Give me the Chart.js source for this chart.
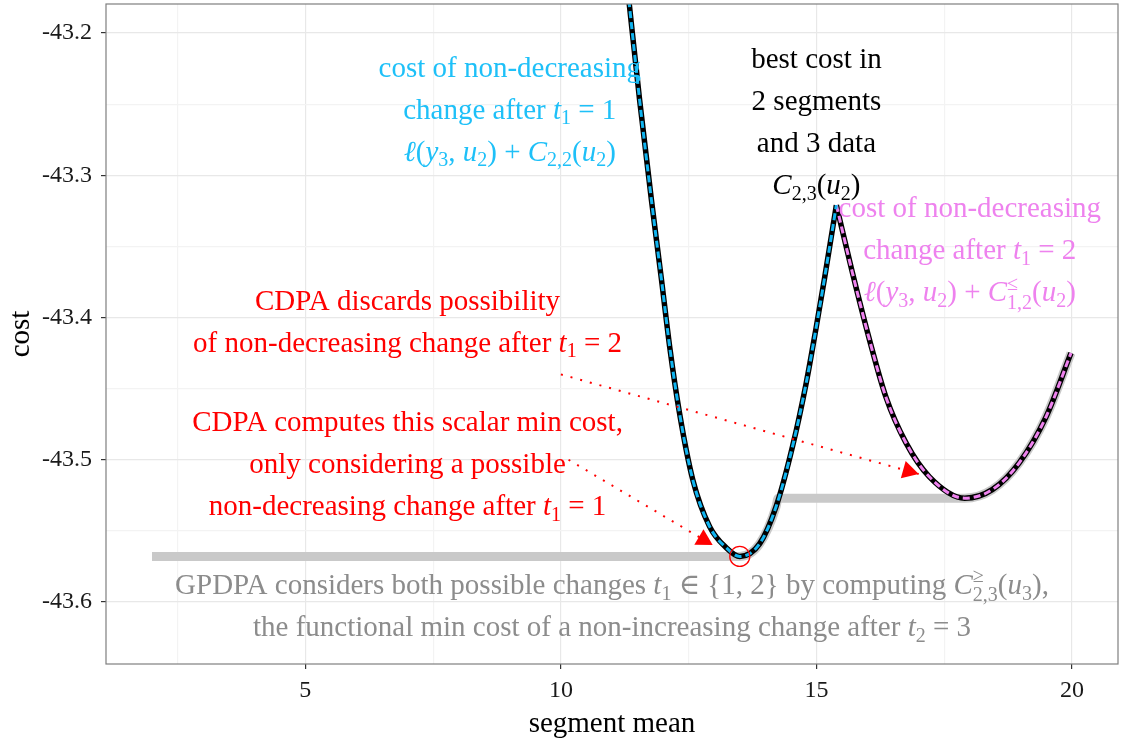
<!DOCTYPE html>
<html>
<head>
<meta charset="utf-8">
<script src="https://cdn.jsdelivr.net/npm/chart.js@4.4.1/dist/chart.umd.min.js"></script>
<style>
  html, body { margin: 0; padding: 0; background: #fff; }
  canvas { display: block; }
</style>
</head>
<body>
<canvas id="costChart" width="1126" height="740"></canvas>
<script>
// cost of a change after t1 = 1 (left branch, up to where it meets the other one)
const segMeanLeft = [11.33, 11.54, 11.77, 11.97, 12.13, 12.32, 12.58, 12.91, 13.24, 13.50, 13.89, 14.21, 14.53, 14.80, 14.99, 15.16, 15.39];
const costLeft = [-43.177, -43.247, -43.317, -43.374, -43.421, -43.467, -43.514, -43.547, -43.562, -43.568, -43.559, -43.533, -43.491, -43.446, -43.408, -43.372, -43.321];

// cost of a change after t1 = 2
const segMeanRight = [15.39, 15.70, 16.04, 16.36, 16.75, 17.21, 17.90, 18.44, 18.97, 19.49, 19.98];
const costRight = [-43.321, -43.368, -43.416, -43.456, -43.488, -43.512, -43.527, -43.521, -43.502, -43.470, -43.425];

// functional min cost of a non-increasing change (grey band)
const segMeanMin = [2.0, 13.50, 13.89, 14.21, 14.25, 17.90, 18.44, 18.97, 19.49, 19.98];
const costMin = [-43.568, -43.568, -43.559, -43.533, -43.527, -43.527, -43.521, -43.502, -43.470, -43.425];

// scalar min cost found by CDPA
const minMean = [13.50];
const minCost = [-43.568];

const xTickVals = [5, 10, 15, 20];
const xMinorVals = [2.5, 7.5, 12.5, 17.5];
const yTickVals = [-43.6, -43.5, -43.4, -43.3, -43.2];
const yMinorVals = [-43.55, -43.45, -43.35, -43.25];

// dotted arrows: start and tip, in data units
const arrowFrom = [[10, -43.44], [10.15, -43.5]];
const arrowTo = [[17, -43.51], [12.97, -43.56]];

// text notes, centred on (x, y)
const notes = [
  { x: 9, y: -43.251, color: '#1ec0f8', lines: [
    'cost of non-decreasing',
    ['change after ', ['t', 'i'], ['1', '_'], ' = 1'],
    [['ℓ', 'i'], '(', ['y', 'i'], ['3', '_'], ', ', ['u', 'i'], ['2', '_'], ') + ', ['C', 'i'], ['2,2', '_'], '(', ['u', 'i'], ['2', '_'], ')']
  ]},
  { x: 15, y: -43.26, color: '#000000', lines: [
    'best cost in',
    '2 segments',
    'and 3 data',
    [['C', 'i'], ['2,3', '_'], '(', ['u', 'i'], ['2', '_'], ')']
  ]},
  { x: 18, y: -43.35, color: '#ee82ee', lines: [
    'cost of non-decreasing',
    ['change after ', ['t', 'i'], ['1', '_'], ' = 2'],
    [['ℓ', 'i'], '(', ['y', 'i'], ['3', '_'], ', ', ['u', 'i'], ['2', '_'], ') + ', ['C', 'i'], ['≤', '^_', '1,2'], '(', ['u', 'i'], ['2', '_'], ')']
  ]},
  { x: 7, y: -43.4, color: '#ff0000', lines: [
    'CDPA discards possibility',
    ['of non-decreasing change after ', ['t', 'i'], ['1', '_'], ' = 2']
  ]},
  { x: 7, y: -43.5, color: '#ff0000', lines: [
    'CDPA computes this scalar min cost,',
    'only considering a possible',
    ['non-decreasing change after ', ['t', 'i'], ['1', '_'], ' = 1']
  ]},
  { x: 11, y: -43.6, color: '#8c8c8c', lines: [
    ['GPDPA considers both possible changes ', ['t', 'i'], ['1', '_'], ' ∈ {1, 2} by computing ', ['C', 'i'], ['≥', '^_', '2,3'], '(', ['u', 'i'], ['3', '_'], '),'],
    ['the functional min cost of a non-increasing change after ', ['t', 'i'], ['2', '_'], ' = 3']
  ]}
];

const SERIF = '"Liberation Serif", "DejaVu Serif", serif';
const NOTE_SIZE = 29;
const LINE_GAP = 42;

function fontOf(kind, size) {
  return (kind === 'i' ? 'italic ' : '') + size + 'px ' + SERIF;
}

function toPoints(xs, ys) {
  return xs.map((v, i) => ({ x: v, y: ys[i] }));
}

function pieces(line) {
  if (typeof line === 'string') line = [line];
  return line.map(p => typeof p === 'string' ? { text: p, kind: 'r' } : { text: p[0], kind: p[1], low: p[2] });
}

// one line of text with italics, subscripts and stacked super/subscripts
function drawMathLine(ctx, line, cx, baseY, size) {
  const parts = pieces(line);
  const small = Math.round(size * 0.7);
  let total = 0;
  parts.forEach(p => {
    if (p.kind === '_') {
      ctx.font = fontOf('r', small);
      p.w = ctx.measureText(p.text).width;
    } else if (p.kind === '^_') {
      ctx.font = fontOf('r', small);
      p.w = Math.max(ctx.measureText(p.text).width, ctx.measureText(p.low).width);
    } else {
      ctx.font = fontOf(p.kind, size);
      p.w = ctx.measureText(p.text).width;
    }
    total += p.w;
  });
  let x = cx - total / 2;
  parts.forEach(p => {
    if (p.kind === '_') {
      ctx.font = fontOf('r', small);
      ctx.fillText(p.text, x, baseY + size * 0.2);
    } else if (p.kind === '^_') {
      ctx.font = fontOf('r', small);
      ctx.fillText(p.text, x, baseY - size * 0.4);
      ctx.fillText(p.low, x, baseY + size * 0.25);
    } else {
      ctx.font = fontOf(p.kind, size);
      ctx.fillText(p.text, x, baseY);
    }
    x += p.w;
  });
}

function drawArrow(ctx, x0, y0, x1, y1) {
  ctx.save();
  ctx.strokeStyle = '#ff0000';
  ctx.fillStyle = '#ff0000';
  ctx.lineWidth = 2;
  ctx.setLineDash([2, 8]);
  ctx.beginPath();
  ctx.moveTo(x0, y0);
  ctx.lineTo(x1, y1);
  ctx.stroke();
  ctx.setLineDash([]);
  const a = Math.atan2(y1 - y0, x1 - x0);
  const len = 16, half = 9;
  const bx = x1 - len * Math.cos(a), by = y1 - len * Math.sin(a);
  ctx.beginPath();
  ctx.moveTo(x1, y1);
  ctx.lineTo(bx + half * Math.sin(a), by - half * Math.cos(a));
  ctx.lineTo(bx - half * Math.sin(a), by + half * Math.cos(a));
  ctx.closePath();
  ctx.fill();
  ctx.restore();
}

const notesPlugin = {
  id: 'notes',
  afterDatasetsDraw(chart) {
    const { ctx, scales: { x, y } } = chart;
    arrowFrom.forEach((from, i) => {
      const to = arrowTo[i];
      drawArrow(ctx, x.getPixelForValue(from[0]), y.getPixelForValue(from[1]),
        x.getPixelForValue(to[0]), y.getPixelForValue(to[1]));
    });
    ctx.save();
    ctx.textAlign = 'left';
    ctx.textBaseline = 'alphabetic';
    notes.forEach(n => {
      const cx = x.getPixelForValue(n.x);
      const cy = y.getPixelForValue(n.y);
      ctx.fillStyle = n.color;
      n.lines.forEach((line, i) => {
        const base = cy + (i - (n.lines.length - 1) / 2) * LINE_GAP + 13;
        drawMathLine(ctx, line, cx, base, NOTE_SIZE);
      });
    });
    ctx.restore();
  },
  afterDraw(chart) {
    const { ctx, chartArea: a } = chart;
    ctx.save();
    ctx.strokeStyle = '#7f7f7f';
    ctx.lineWidth = 1.2;
    ctx.strokeRect(a.left, a.top, a.right - a.left, a.bottom - a.top);
    ctx.restore();
  }
};

const curve = {
  type: 'line',
  pointRadius: 0,
  cubicInterpolationMode: 'monotone',
  clip: 0,
  fill: false
};

new Chart(document.getElementById('costChart'), {
  type: 'line',
  data: {
    datasets: [
      { label: 'min', data: toPoints(minMean, minCost), showLine: false, pointRadius: 10,
        pointBorderColor: '#ff0000', pointBackgroundColor: 'rgba(0,0,0,0)', pointBorderWidth: 1.3, order: 0 },
      { ...curve, label: 't1 = 1', data: toPoints(segMeanLeft, costLeft), borderColor: '#10b4f0',
        borderWidth: 3, borderDash: [7, 4], order: 1 },
      { ...curve, label: 't1 = 2', data: toPoints(segMeanRight, costRight), borderColor: '#ee82ee',
        borderWidth: 3, borderDash: [7, 4], order: 1 },
      { ...curve, label: 'C23 left', data: toPoints(segMeanLeft, costLeft), borderColor: '#000000',
        borderWidth: 5.5, order: 2 },
      { ...curve, label: 'C23 right', data: toPoints(segMeanRight, costRight), borderColor: '#000000',
        borderWidth: 5.5, order: 2 },
      { ...curve, label: 'GPDPA', data: toPoints(segMeanMin, costMin), borderColor: '#c9c9c9',
        borderWidth: 9, order: 3 }
    ]
  },
  options: {
    responsive: false,
    animation: false,
    events: [],
    layout: { autoPadding: false, padding: { top: 4, right: 8, left: 0, bottom: 0 } },
    plugins: { legend: { display: false }, tooltip: { enabled: false } },
    scales: {
      x: {
        type: 'linear',
        min: 1.1,
        max: 20.9,
        afterFit: s => { s.height = 76; s.paddingLeft = 0; s.paddingRight = 0; },
        afterBuildTicks: s => {
          s.ticks = [...xMinorVals, ...xTickVals].sort((a, b) => a - b).map(v => ({ value: v }));
        },
        border: { display: false },
        grid: {
          color: c => xTickVals.includes(c.tick.value) ? '#e8e8e8' : '#f3f3f3',
          lineWidth: 1.2,
          tickLength: 5,
          tickWidth: 1.2,
          tickColor: c => xTickVals.includes(c.tick.value) ? '#333333' : 'rgba(0,0,0,0)'
        },
        ticks: {
          autoSkip: false,
          maxRotation: 0,
          padding: 7,
          color: '#1a1a1a',
          font: { family: SERIF, size: 24 },
          callback: v => xTickVals.includes(v) ? String(v) : ''
        },
        title: {
          display: true,
          text: 'segment mean',
          color: '#000000',
          font: { family: SERIF, size: 29 },
          padding: { top: 0, bottom: -2 }
        }
      },
      y: {
        min: -43.6436,
        max: -43.1796,
        afterFit: s => { s.width = 106; s.paddingTop = 0; s.paddingBottom = 0; },
        afterBuildTicks: s => {
          s.ticks = [...yTickVals, ...yMinorVals].sort((a, b) => a - b).map(v => ({ value: v }));
        },
        border: { display: false },
        grid: {
          color: c => yTickVals.includes(c.tick.value) ? '#e8e8e8' : '#f3f3f3',
          lineWidth: 1.2,
          tickLength: 5,
          tickWidth: 1.2,
          tickColor: c => yTickVals.includes(c.tick.value) ? '#333333' : 'rgba(0,0,0,0)'
        },
        ticks: {
          autoSkip: false,
          padding: 9,
          color: '#1a1a1a',
          font: { family: SERIF, size: 24 },
          callback: v => yTickVals.includes(v) ? v.toFixed(1) : ''
        },
        title: {
          display: true,
          text: 'cost',
          color: '#000000',
          font: { family: SERIF, size: 29 },
          padding: { top: 4, bottom: 0 }
        }
      }
    }
  },
  plugins: [notesPlugin]
});
</script>
</body>
</html>
